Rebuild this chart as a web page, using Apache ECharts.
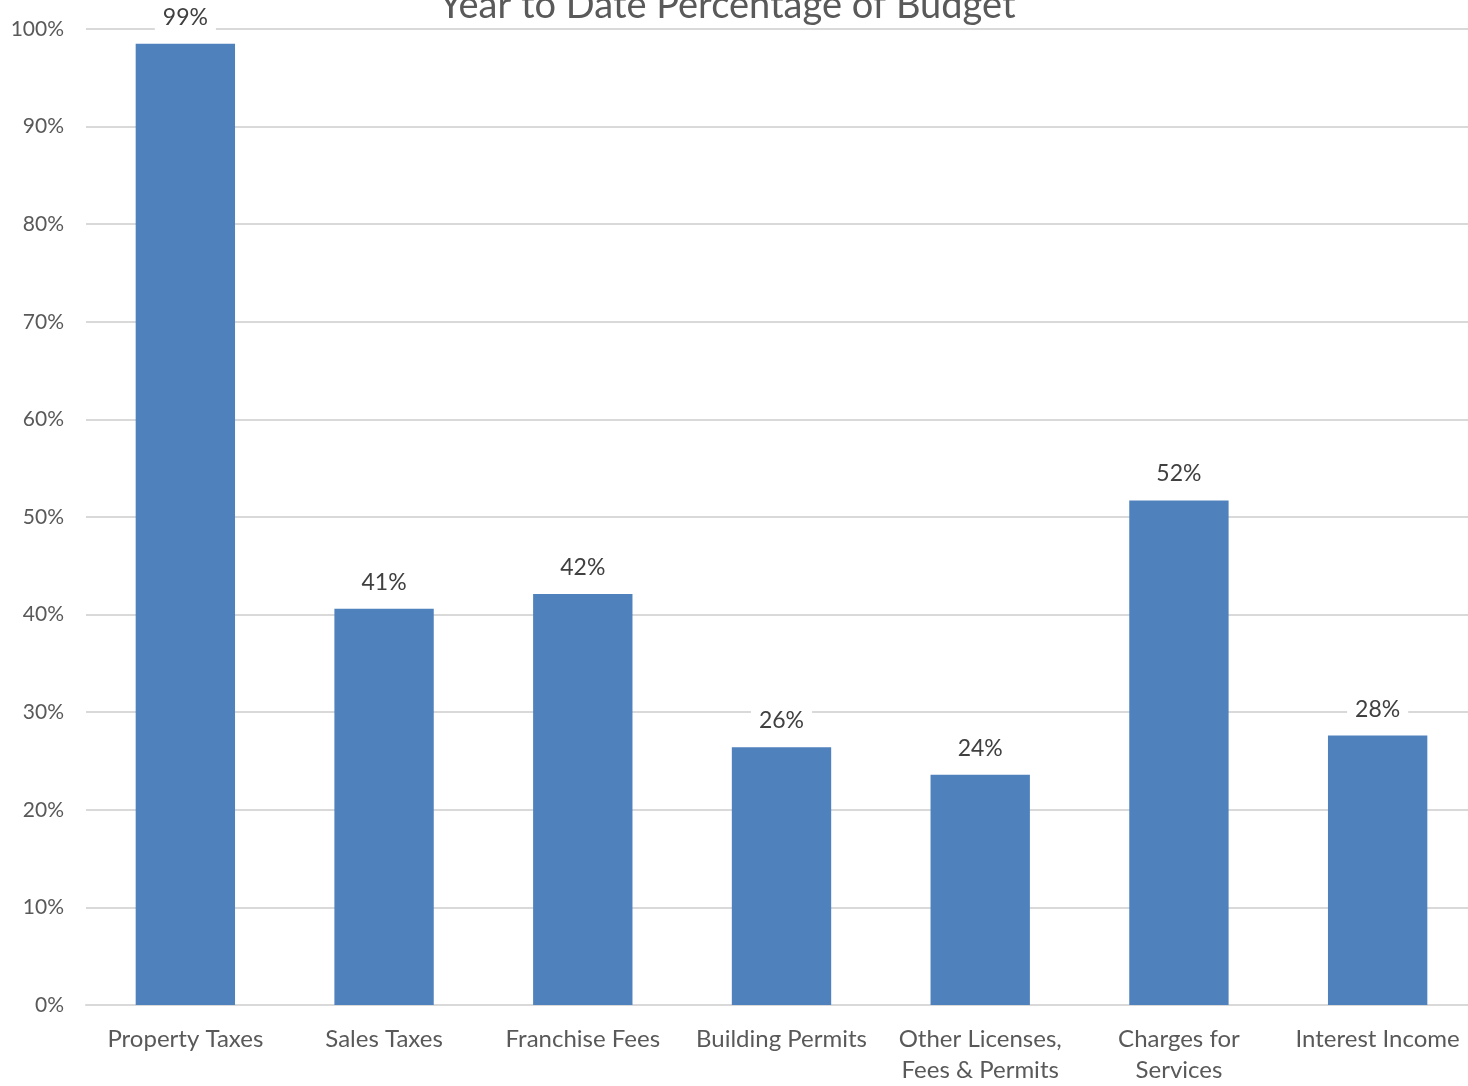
<!DOCTYPE html>
<html>
<head>
<meta charset="utf-8">
<script src="https://cdn.jsdelivr.net/npm/echarts@6/dist/echarts.min.js"></script>
<style>
  html, body { margin: 0; padding: 0; background: #fff; overflow: hidden; }
  #chart { width: 1477px; height: 1086px; }
</style>
</head>
<body>
<div id="chart"></div>
<script>
// Revenue categories and year-to-date share of budget collected
const categories = [
  'Property Taxes',
  'Sales Taxes',
  'Franchise Fees',
  'Building Permits',
  'Other Licenses,\nFees & Permits',
  'Charges for\nServices',
  'Interest Income'
];
const ytdPercent = [98.5, 40.6, 42.1, 26.4, 23.6, 51.7, 27.6];
const yTicks = [0, 10, 20, 30, 40, 50, 60, 70, 80, 90, 100];

const FONT = 'Lato, "Open Sans", sans-serif';

const chart = echarts.init(document.getElementById('chart'), null, { renderer: 'canvas' });
chart.setOption({
  animation: false,
  backgroundColor: '#ffffff',
  title: {
    text: 'Year to Date Percentage of Budget',
    left: 434,
    top: -18,
    textStyle: { fontFamily: FONT, fontSize: 38, fontWeight: 'normal', color: '#595959' }
  },
  grid: { left: 86, right: 0, top: 29, bottom: 76, containLabel: false },
  xAxis: {
    type: 'category',
    data: categories,
    axisLine: { show: true, lineStyle: { color: '#d9d9d9', width: 2 } },
    axisTick: { show: false },
    axisLabel: {
      fontFamily: FONT, fontSize: 24, color: '#595959',
      margin: 19, lineHeight: 31, interval: 0
    }
  },
  yAxis: {
    type: 'value',
    min: yTicks[0],
    max: yTicks[yTicks.length - 1],
    interval: 10,
    axisLine: { show: false },
    axisTick: { show: false },
    splitLine: { lineStyle: { color: '#d9d9d9', width: 2 } },
    axisLabel: {
      fontFamily: FONT, fontSize: 21, color: '#595959', margin: 22,
      formatter: v => v + '%'
    }
  },
  series: [{
    type: 'bar',
    data: ytdPercent,
    barWidth: '50%',
    itemStyle: { color: '#4f81bd' },
    label: {
      show: true,
      position: 'top',
      distance: 13,
      fontFamily: FONT, fontSize: 23, color: '#404040',
      backgroundColor: '#ffffff',
      padding: [2, 8],
      formatter: p => Math.round(p.value) + '%'
    }
  }]
});
</script>
</body>
</html>
